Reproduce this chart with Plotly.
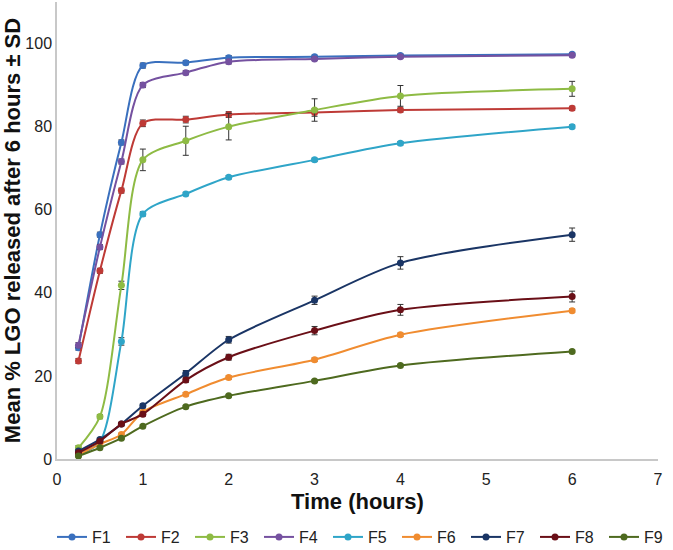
import plotly.graph_objects as go

time_h = [0.25, 0.5, 0.75, 1, 1.5, 2, 3, 4, 6]

F1 = [26.8, 54.0, 76.2, 94.7, 95.4, 96.6, 96.8, 97.1, 97.4]
F2 = [23.6, 45.3, 64.6, 80.8, 81.7, 82.9, 83.4, 84.0, 84.4]
F3 = [2.7, 10.2, 41.8, 72.0, 76.6, 80.0, 84.0, 87.4, 89.1]
F4 = [27.4, 51.0, 71.6, 90.0, 93.0, 95.6, 96.3, 96.8, 97.2]
F5 = [1.0, 4.2, 28.3, 59.0, 63.8, 67.8, 72.0, 76.0, 80.0]
F6 = [1.0, 3.6, 5.9, 11.3, 15.6, 19.6, 23.9, 29.9, 35.7]
F7 = [1.9, 4.7, 8.4, 12.8, 20.6, 28.7, 38.2, 47.2, 54.0]
F8 = [1.5, 4.3, 8.4, 10.8, 19.0, 24.5, 30.9, 35.9, 39.1]
F9 = [0.7, 2.7, 5.0, 7.9, 12.6, 15.2, 18.8, 22.5, 25.9]

F1_sd = [0.6, 0.6, 0.6, 0.6, 0.5, 0.5, 0.4, 0.4, 0.4]
F2_sd = [0.6, 0.6, 0.6, 0.8, 0.8, 0.7, 0.9, 0.5, 0.5]
F3_sd = [0.5, 0.5, 1.0, 2.6, 3.5, 3.2, 2.7, 2.5, 1.8]
F4_sd = [0.6, 0.6, 0.6, 0.6, 0.5, 0.5, 0.4, 0.4, 0.4]
F5_sd = [0.3, 0.3, 0.9, 0.5, 0.4, 0.4, 0.4, 0.4, 0.4]
F6_sd = [0.3, 0.3, 0.3, 0.3, 0.4, 0.4, 0.4, 0.4, 0.4]
F7_sd = [0.3, 0.3, 0.4, 0.5, 0.7, 0.8, 1.0, 1.5, 1.6]
F8_sd = [0.3, 0.3, 0.4, 0.5, 0.6, 0.7, 1.0, 1.3, 1.3]
F9_sd = [0.2, 0.2, 0.3, 0.3, 0.3, 0.3, 0.3, 0.3, 0.3]

series_names = ["F1", "F2", "F3", "F4", "F5", "F6", "F7", "F8", "F9"]
series_values = [F1, F2, F3, F4, F5, F6, F7, F8, F9]
series_sd = [F1_sd, F2_sd, F3_sd, F4_sd, F5_sd, F6_sd, F7_sd, F8_sd, F9_sd]
colors = ["#3A70BE", "#BE3A36", "#8EBB44", "#7551A0", "#2FA5C8",
          "#F08C30", "#1A3565", "#6A0F17", "#4E6A1F"]

x_ticks = [0, 1, 2, 3, 4, 5, 6, 7]
y_ticks = [0, 20, 40, 60, 80, 100]

fig = go.Figure()
for name, vals, sd, col in zip(series_names, series_values, series_sd, colors):
    fig.add_trace(go.Scatter(
        x=time_h, y=vals, name=name, mode="lines+markers",
        line=dict(color=col, width=2, shape="spline", smoothing=0.8),
        marker=dict(color=col, size=7, symbol="circle"),
        error_y=dict(type="data", array=sd, visible=True, color="#333333",
                     thickness=1, width=3),
    ))

font_family = "Liberation Sans, Arial, sans-serif"
fig.update_layout(
    width=673, height=550,
    margin=dict(l=57, r=15, t=2, b=91, autoexpand=False),
    plot_bgcolor="white", paper_bgcolor="white",
    font=dict(family=font_family, color="#222222"),
    showlegend=True,
    legend=dict(orientation="h", xref="paper", x=-0.0083, xanchor="left",
                yref="paper", y=-0.1707, yanchor="middle",
                font=dict(size=16, color="#222222"), itemwidth=30,
                entrywidth=24, entrywidthmode="pixels",
                traceorder="normal", tracegroupgap=0),
    xaxis=dict(range=[0, 7], tickvals=x_ticks, ticks="", ticklen=0, showgrid=False,
               zeroline=False, showline=True, linecolor="#C8C8C8", linewidth=1.5,
               tickfont=dict(size=16, color="#222222"), ticklabelstandoff=5,
               title=dict(text="<b>Time (hours)</b>", font=dict(size=22, color="#111111"),
                          standoff=7)),
    yaxis=dict(range=[0, 110], tickvals=y_ticks, ticks="", ticklen=0, showgrid=False,
               zeroline=False, showline=True, linecolor="#C8C8C8", linewidth=1.5,
               tickfont=dict(size=16, color="#222222"),
               title=dict(text="<b>Mean % LGO released after 6 hours ± SD</b>",
                          font=dict(size=22, color="#111111"), standoff=3)),
)

fig.write_html("out.html", config={"displayModeBar": False},
               post_script="document.body.style.margin='0px';")
